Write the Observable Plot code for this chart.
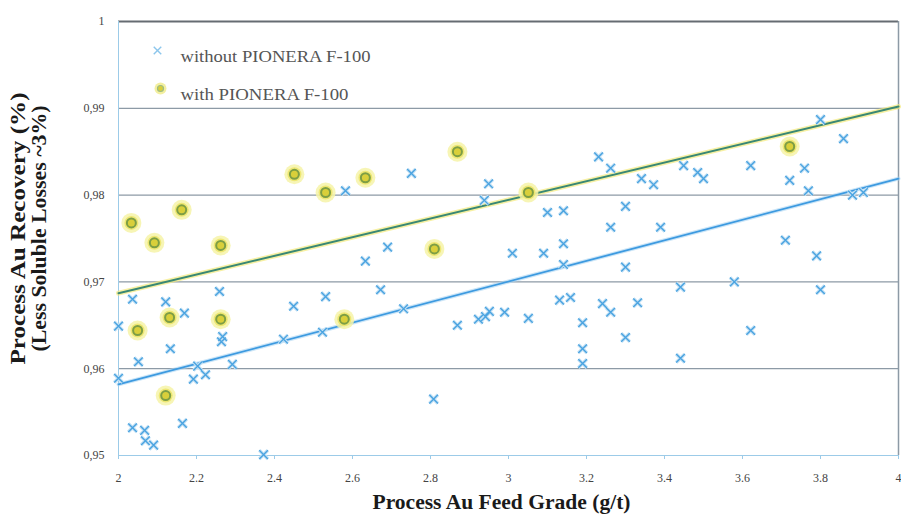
<!DOCTYPE html>
<html>
<head>
<meta charset="utf-8">
<script src="https://cdn.jsdelivr.net/npm/d3@7"></script>
<script src="https://cdn.jsdelivr.net/npm/@observablehq/plot@0.6"></script>
<style>
  html, body { margin: 0; padding: 0; background: #fff; }
  #chart svg { display: block; }
</style>
</head>
<body>
<div id="chart"></div>
<script>
// Data
const withoutX = [2.036,2.121,2.259,2.169,2.000,2.267,2.264,2.133,2.051,2.449,2.531,2.672,2.633,2.731,2.523,2.423,2.292,2.203,2.223,2.192,2.000,2.808,2.164,2.036,2.067,2.069,2.090,2.372,2.582,2.751,2.949,2.938,2.690,3.010,2.869,2.923,2.941,2.951,2.990,3.051,3.141,3.300,3.441,3.579,3.800,3.131,3.159,3.190,3.241,3.262,3.331,3.300,3.190,3.190,3.441,3.621,3.231,3.262,3.341,3.372,3.449,3.485,3.500,3.100,3.141,3.300,3.262,3.390,3.090,3.141,3.800,3.859,3.621,3.759,3.721,3.769,3.882,3.910,3.710,3.790];
const withoutY = [0.9680,0.9677,0.9689,0.9664,0.9649,0.9637,0.9631,0.9623,0.9608,0.9672,0.9683,0.9691,0.9724,0.9669,0.9642,0.9634,0.9605,0.9603,0.9593,0.9588,0.9589,0.9565,0.9537,0.9532,0.9529,0.9517,0.9512,0.9501,0.9805,0.9825,0.9813,0.9794,0.9740,0.9733,0.9650,0.9657,0.9660,0.9666,0.9665,0.9658,0.9720,0.9717,0.9694,0.9700,0.9691,0.9679,0.9682,0.9653,0.9675,0.9665,0.9676,0.9636,0.9623,0.9606,0.9612,0.9644,0.9844,0.9831,0.9819,0.9812,0.9834,0.9826,0.9819,0.9780,0.9782,0.9787,0.9763,0.9763,0.9733,0.9744,0.9887,0.9865,0.9834,0.9831,0.9817,0.9805,0.9800,0.9803,0.9748,0.9730];
const withX = [2.033,2.092,2.162,2.262,2.451,2.531,2.633,2.869,3.051,3.721,2.810,2.049,2.131,2.262,2.579,2.121];
const withY = [0.9768,0.9745,0.9783,0.9742,0.9824,0.9803,0.9820,0.9850,0.9803,0.9856,0.9738,0.9644,0.9659,0.9657,0.9657,0.9569];
const trendX = [2, 4];
const trendWithoutY = [0.9582, 0.9819];
const trendWithY = [0.9687, 0.9902];
const xTicks = [2, 2.2, 2.4, 2.6, 2.8, 3, 3.2, 3.4, 3.6, 3.8, 4];
const yTicks = [0.95, 0.96, 0.97, 0.98, 0.99, 1];
const gridY = [0.96, 0.97, 0.98, 0.99];
const legendLabels = ["without PIONERA F-100", "with PIONERA F-100"];
const yTitle = ["Process Au Recovery (%)", "(Less Soluble Losses ~3%)"];
const xTitle = "Process Au Feed Grade (g/t)";

const without = withoutX.map((x, i) => ({x, y: withoutY[i]}));
const withP = withX.map((x, i) => ({x, y: withY[i]}));
const tWithout = trendX.map((x, i) => ({x, y: trendWithoutY[i]}));
const tWith = trendX.map((x, i) => ({x, y: trendWithY[i]}));

const serif = "Liberation Serif";
const blue = "#4aa3e0";

const chart = Plot.plot({
  width: 901,
  height: 519,
  marginLeft: 118,
  marginRight: 3,
  marginTop: 21,
  marginBottom: 64,
  style: {fontFamily: serif, background: "#fff"},
  x: {domain: [2, 4], ticks: xTicks, label: null},
  y: {domain: [0.95, 1], ticks: yTicks, label: null},
  marks: [
    Plot.ruleY(gridY, {stroke: "#8d9aa6", strokeWidth: 1.2}),
    Plot.ruleY([1], {stroke: "#666c72", strokeWidth: 2}),
    Plot.ruleX([4], {stroke: "#8d9aa6", strokeWidth: 1.5}),
    Plot.ruleX([2], {stroke: "#9ccbe8", strokeWidth: 1}),
    Plot.ruleY([0.95], {stroke: "#9ccbe8", strokeWidth: 1.2}),
    Plot.axisX({ticks: xTicks, tickSize: 4, tickPadding: 14, stroke: "#9ccbe8", fontSize: 12, fontFamily: serif, fill: "#444", tickFormat: d => String(d), label: null}),
    Plot.axisY({ticks: yTicks, tickSize: 0, tickPadding: 14, fontSize: 12, fontFamily: serif, fill: "#444", tickFormat: d => d === 1 ? "1" : d3.format(".2f")(d).replace(".", ","), label: null}),
    // trend lines
    Plot.line(tWith, {x: "x", y: "y", stroke: "#f3ea7a", strokeWidth: 5, strokeOpacity: 0.7}),
    Plot.line(tWith, {x: "x", y: "y", stroke: "#3a8874", strokeWidth: 2}),
    Plot.line(tWithout, {x: "x", y: "y", stroke: "#a9d4f2", strokeWidth: 4, strokeOpacity: 0.6}),
    Plot.line(tWithout, {x: "x", y: "y", stroke: "#3d9ae0", strokeWidth: 1.8}),
    // without markers
    Plot.dot(without, {x: "x", y: "y", symbol: "times", r: 4, stroke: "#c6e2f5", strokeWidth: 3.5}),
    Plot.dot(without, {x: "x", y: "y", symbol: "times", r: 4, stroke: blue, strokeWidth: 1.4}),
    // with markers
    Plot.dot(withP, {x: "x", y: "y", r: 10, fill: "#f6f3a8", fillOpacity: 0.85}),
    Plot.dot(withP, {x: "x", y: "y", r: 7, fill: "#eee773"}),
    Plot.dot(withP, {x: "x", y: "y", r: 4.5, fill: "#d9cf3a", stroke: "#7d9e45", strokeWidth: 2}),
    // legend
    Plot.dot([0], {frameAnchor: "top-left", dx: 39, dy: 29, symbol: "times", r: 3.5, stroke: "#8cc6ec", strokeWidth: 1.4}),
    Plot.dot([0], {frameAnchor: "top-left", dx: 42, dy: 67, r: 6, fill: "#f3efa0"}),
    Plot.dot([0], {frameAnchor: "top-left", dx: 42, dy: 67, r: 3, fill: "#d9cf3a", stroke: "#9dbc84", strokeWidth: 1.2}),
    Plot.text([legendLabels[0]], {frameAnchor: "top-left", dx: 62, dy: 29, text: d => d, textAnchor: "start", fontSize: 16, fontFamily: serif, fill: "#555"}),
    Plot.text([legendLabels[1]], {frameAnchor: "top-left", dx: 62, dy: 67, text: d => d, textAnchor: "start", fontSize: 16, fontFamily: serif, fill: "#555"}),
    // axis titles
    Plot.text([yTitle[0]], {frameAnchor: "left", dx: -100, dy: -10, rotate: -90, textAnchor: "middle", text: d => d, fontSize: 20, fontWeight: "bold", fontFamily: serif, fill: "#1a1a1a"}),
    Plot.text([yTitle[1]], {frameAnchor: "left", dx: -79, dy: -10, rotate: -90, textAnchor: "middle", text: d => d, fontSize: 20, fontWeight: "bold", fontFamily: serif, fill: "#1a1a1a"}),
    Plot.text([xTitle], {frameAnchor: "bottom", dx: -7, dy: 53, text: d => d, fontSize: 20, fontWeight: "bold", fontFamily: serif, fill: "#1a1a1a"})
  ]
});
// stretch texts to match the reference's text extents
const lengths = new Map([[yTitle[0], 272], [yTitle[1], 246], [xTitle, 258], [legendLabels[0], 190], [legendLabels[1], 168]]);
d3.select(chart).selectAll("text").each(function() {
  const t = d3.select(this).text();
  if (lengths.has(t)) d3.select(this).attr("textLength", lengths.get(t)).attr("lengthAdjust", "spacingAndGlyphs");
});
document.getElementById("chart").appendChild(chart);
</script>
</body>
</html>
